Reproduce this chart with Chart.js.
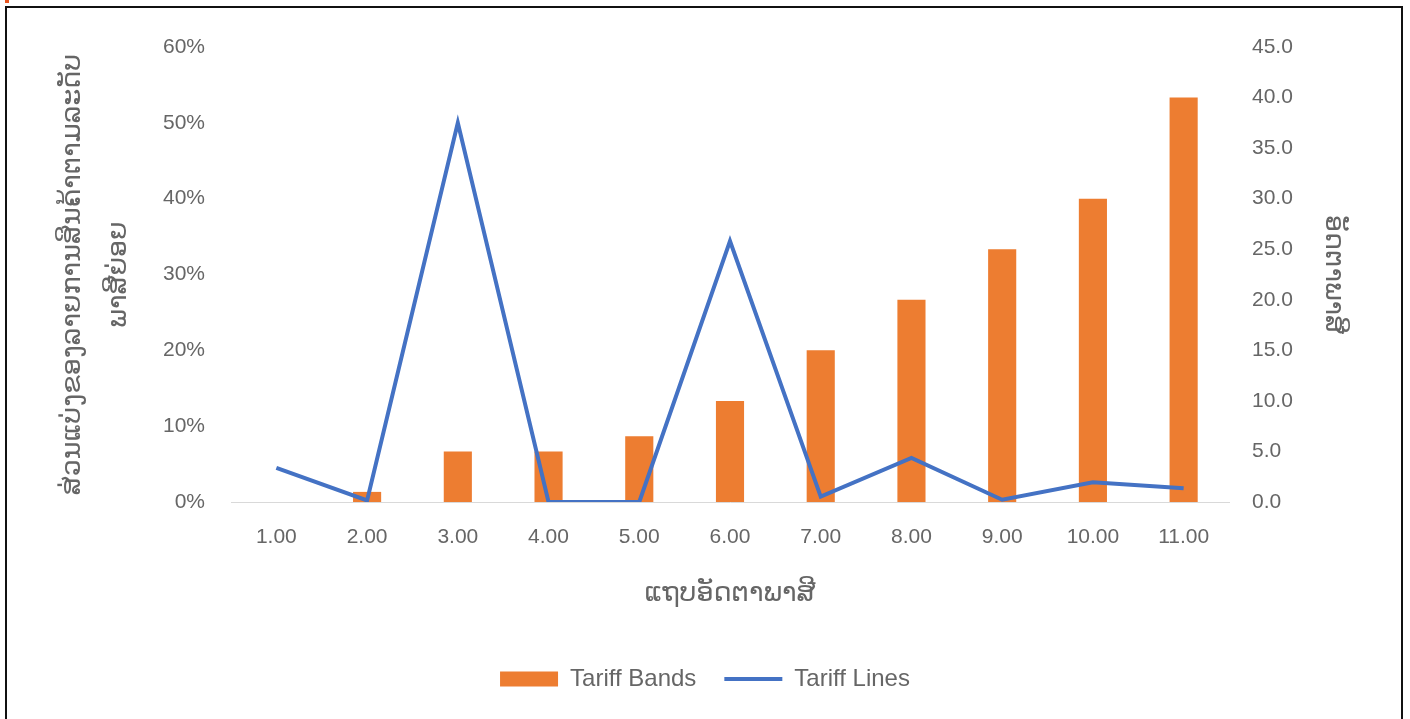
<!DOCTYPE html>
<html>
<head>
<meta charset="utf-8">
<script src="https://cdn.jsdelivr.net/npm/chart.js"></script>
<style>
    html, body { margin: 0; padding: 0; background: #fff; }
    #wrap { position: relative; width: 1410px; height: 719px; overflow: hidden; }
    #frame { position: absolute; left: 5px; top: 6px; width: 1394px; height: 730px; border: 2px solid #111; border-bottom: none; }
    #mark { position: absolute; left: 5px; top: 0; width: 4px; height: 3px; background: #e8541e; }
    canvas { position: absolute; left: 0; top: 0; }
</style>
</head>
<body>
<div id="wrap">
    <div id="mark"></div>
    <div id="frame"></div>
    <canvas id="chart" width="1410" height="719"></canvas>
</div>
<script>
// ຂໍ້ມູນ
const categories = ['1.00', '2.00', '3.00', '4.00', '5.00', '6.00', '7.00', '8.00', '9.00', '10.00', '11.00'];
const tariffBands = [0, 1, 5, 5, 6.5, 10, 15, 20, 25, 30, 40];
const tariffLines = [4.5, 0.2, 50.0, 0, 0, 34.4, 0.7, 5.8, 0.3, 2.6, 1.8]; // %

const leftTitle = ['ສ່ວນແບ່ງຂອງລາຍການສິນຄ້າຕາມລະດັບ', 'ພາສີຍ່ອຍ'];
const rightTitle = 'ອັດຕາພາສີ';
const xTitle = 'ແຖບອັດຕາພາສີ';

const tickColor = '#666666';
const tickFont = { family: 'Liberation Sans, DejaVu Sans', size: 21 };
const laoFont = { family: 'DejaVu Sans', size: 27 };

const ctx = document.getElementById('chart').getContext('2d');
new Chart(ctx, {
    data: {
        labels: categories,
        datasets: [
            {
                type: 'line',
                label: 'Tariff Lines',
                data: tariffLines,
                yAxisID: 'y',
                borderColor: '#4472C4',
                backgroundColor: '#4472C4',
                borderWidth: 4,
                pointRadius: 0,
                tension: 0,
                pointStyle: 'line',
                order: 1
            },
            {
                type: 'bar',
                label: 'Tariff Bands',
                data: tariffBands,
                yAxisID: 'y1',
                backgroundColor: '#ED7D31',
                borderWidth: 0,
                barPercentage: 0.31,
                categoryPercentage: 1,
                pointStyle: 'rect',
                order: 2
            }
        ]
    },
    options: {
        responsive: false,
        animation: false,
        layout: { padding: { top: 47, bottom: 18, left: 0, right: 0 } },
        plugins: {
            legend: {
                position: 'bottom',
                reverse: true,
                labels: {
                    usePointStyle: true,
                    pointStyleWidth: 58,
                    boxHeight: 15,
                    padding: 28,
                    color: tickColor,
                    font: { family: 'Liberation Sans', size: 24 }
                }
            },
            tooltip: { enabled: false }
        },
        scales: {
            x: {
                grid: { display: false, drawTicks: false },
                border: { display: true, color: '#d9d9d9', width: 1 },
                ticks: { color: tickColor, font: tickFont, padding: 23, maxRotation: 0 },
                title: { display: true, text: xTitle, color: tickColor, font: laoFont, padding: { top: 0, bottom: 29 } },
                afterFit: s => { s.height = 137; }
            },
            y: {
                position: 'left',
                min: 0, max: 60,
                grid: { display: false, drawTicks: false },
                border: { display: false },
                ticks: { stepSize: 10, color: tickColor, font: tickFont, padding: 26, callback: v => v + '%' },
                title: { display: true, text: leftTitle, color: tickColor, font: { family: 'DejaVu Sans', size: 27, lineHeight: 1.74 }, padding: { top: 49, bottom: 0 } },
                afterFit: s => { s.width = 231; }
            },
            y1: {
                position: 'right',
                min: 0, max: 45,
                grid: { display: false, drawTicks: false },
                border: { display: false },
                ticks: { stepSize: 5, color: tickColor, font: tickFont, padding: 23, callback: v => v.toFixed(1) },
                title: { display: true, text: rightTitle, color: tickColor, font: laoFont, padding: { top: 61, bottom: 0 } },
                afterFit: s => { s.width = 181; }
            }
        }
    }
});
</script>
</body>
</html>
